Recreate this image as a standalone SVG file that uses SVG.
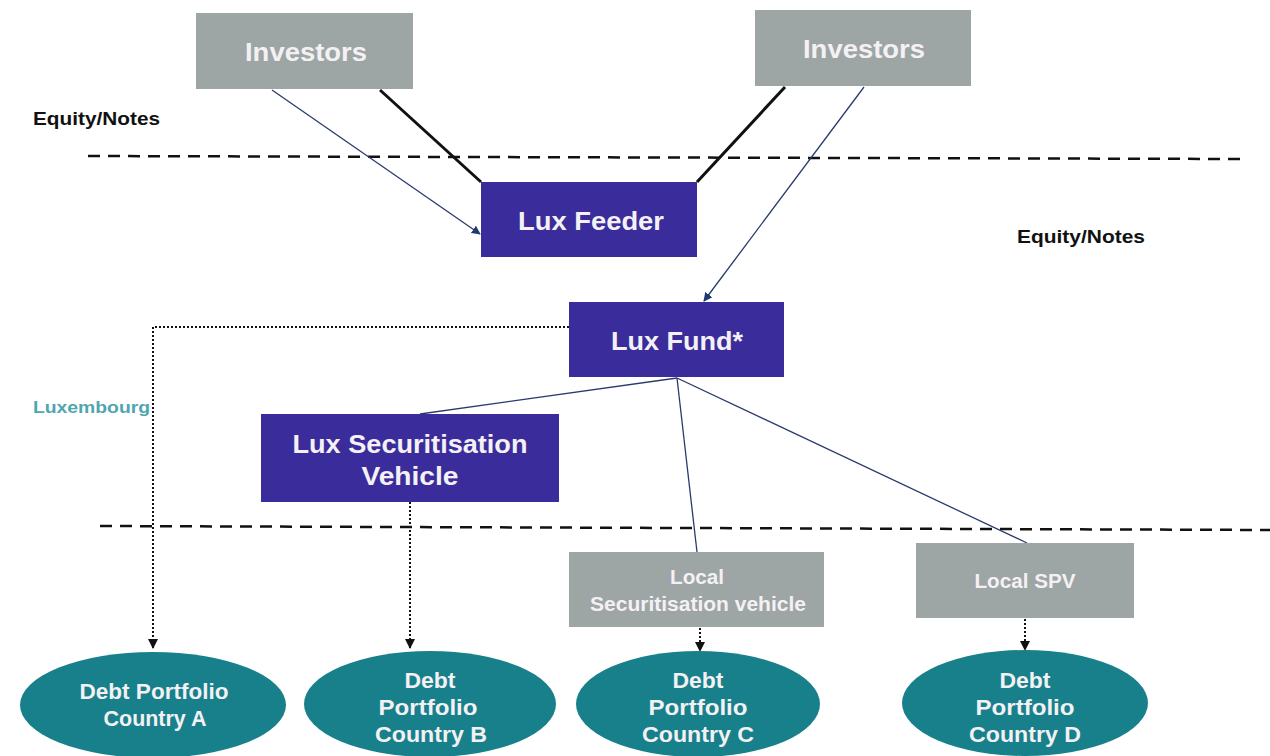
<svg xmlns="http://www.w3.org/2000/svg" width="1270" height="756" viewBox="0 0 1270 756">
<style>
.gray{fill:#9ea5a5}
.purple{fill:#3b2c9b}
.teal{fill:#17808b}
.t{font-family:"Liberation Sans",Arial,sans-serif;font-weight:bold;text-anchor:middle;fill:#f4f1f4}
.lbl{font-family:"Liberation Sans",Arial,sans-serif;font-weight:bold;fill:#111}
.thin{stroke:#2a3a6e;stroke-width:1.3;fill:none}
.thick{stroke:#111;stroke-width:3;fill:none}
.dot{stroke:#111;stroke-width:2;stroke-dasharray:2 2;fill:none}
.dash{stroke:#111;stroke-width:2.5;stroke-dasharray:12 8;fill:none}
</style>
<defs>
<marker id="a1" viewBox="0 0 10 10" refX="9" refY="5" markerWidth="9" markerHeight="9" markerUnits="userSpaceOnUse" orient="auto"><path d="M0,0 L10,5 L0,10 z" fill="#1e3a6e"/></marker>
<marker id="a2" viewBox="0 0 10 10" refX="9" refY="5" markerWidth="10" markerHeight="10" markerUnits="userSpaceOnUse" orient="auto"><path d="M0,0 L10,5 L0,10 z" fill="#111"/></marker>
</defs>
<rect width="1270" height="756" fill="#fff"/>

<g id="boundaries">
<line class="dash" x1="88" y1="156" x2="1240" y2="159"/>
<line class="dash" x1="100" y1="526" x2="1270" y2="530"/>
<text class="lbl" x="33" y="125" font-size="18" textLength="127" lengthAdjust="spacingAndGlyphs">Equity/Notes</text>
<text class="lbl" x="1017" y="243" font-size="18" textLength="128" lengthAdjust="spacingAndGlyphs">Equity/Notes</text>
<text x="33" y="413" font-family="Liberation Sans,Arial,sans-serif" font-weight="bold" font-size="16" fill="#4fa6b0" textLength="117" lengthAdjust="spacingAndGlyphs">Luxembourg</text>
</g>

<g id="connectors">
<line class="thin" x1="272" y1="90" x2="480" y2="234" marker-end="url(#a1)"/>
<line class="thick" x1="380" y1="90" x2="481" y2="182"/>
<line class="thick" x1="785" y1="87" x2="697" y2="182"/>
<line class="thin" x1="864" y1="87" x2="704" y2="301" marker-end="url(#a1)"/>
<line class="thin" x1="677" y1="378" x2="420" y2="414"/>
<line class="thin" x1="677" y1="378" x2="697" y2="552"/>
<line class="thin" x1="677" y1="378" x2="1027" y2="543"/>
<polyline class="dot" points="569,327 153,327 153,648" marker-end="url(#a2)"/>
<line class="dot" x1="410" y1="502" x2="410" y2="648" marker-end="url(#a2)"/>
<line class="dot" x1="700" y1="628" x2="700" y2="651" marker-end="url(#a2)"/>
<line class="dot" x1="1025" y1="619" x2="1025" y2="650" marker-end="url(#a2)"/>
</g>

<g id="investors-left">
<rect class="gray" x="196" y="13" width="217" height="76"/>
<text class="t" x="306" y="61" font-size="26" textLength="122" lengthAdjust="spacingAndGlyphs">Investors</text>
</g>
<g id="investors-right">
<rect class="gray" x="755" y="10" width="216" height="76"/>
<text class="t" x="864" y="58" font-size="26" textLength="122" lengthAdjust="spacingAndGlyphs">Investors</text>
</g>
<g id="lux-feeder">
<rect class="purple" x="481" y="182" width="216" height="75"/>
<text class="t" x="591" y="230" font-size="26" textLength="146" lengthAdjust="spacingAndGlyphs">Lux Feeder</text>
</g>
<g id="lux-fund">
<rect class="purple" x="569" y="302" width="215" height="75"/>
<text class="t" x="677" y="350" font-size="26" textLength="132" lengthAdjust="spacingAndGlyphs">Lux Fund*</text>
</g>
<g id="lux-sec-vehicle">
<rect class="purple" x="261" y="414" width="298" height="88"/>
<text class="t" x="410" y="453" font-size="26" textLength="235" lengthAdjust="spacingAndGlyphs">Lux Securitisation</text>
<text class="t" x="410" y="485" font-size="26" textLength="97" lengthAdjust="spacingAndGlyphs">Vehicle</text>
</g>
<g id="local-sec-vehicle">
<rect class="gray" x="569" y="552" width="255" height="75"/>
<text class="t" x="697" y="584" font-size="20" textLength="54" lengthAdjust="spacingAndGlyphs">Local</text>
<text class="t" x="698" y="611" font-size="20" textLength="216" lengthAdjust="spacingAndGlyphs">Securitisation vehicle</text>
</g>
<g id="local-spv">
<rect class="gray" x="916" y="543" width="218" height="75"/>
<text class="t" x="1025" y="588" font-size="20" textLength="101" lengthAdjust="spacingAndGlyphs">Local SPV</text>
</g>
<g id="portfolio-a">
<ellipse class="teal" cx="153" cy="705" rx="133" ry="53"/>
<text class="t" x="154" y="699" font-size="22" textLength="149" lengthAdjust="spacingAndGlyphs">Debt Portfolio</text>
<text class="t" x="155" y="726" font-size="22" textLength="103" lengthAdjust="spacingAndGlyphs">Country A</text>
</g>
<g id="portfolio-b">
<ellipse class="teal" cx="430" cy="704" rx="126" ry="53"/>
<text class="t" x="430" y="688" font-size="22" textLength="51" lengthAdjust="spacingAndGlyphs">Debt</text>
<text class="t" x="428" y="715" font-size="22" textLength="99" lengthAdjust="spacingAndGlyphs">Portfolio</text>
<text class="t" x="431" y="742" font-size="22" textLength="112" lengthAdjust="spacingAndGlyphs">Country B</text>
</g>
<g id="portfolio-c">
<ellipse class="teal" cx="698" cy="704" rx="122" ry="53"/>
<text class="t" x="698" y="688" font-size="22" textLength="51" lengthAdjust="spacingAndGlyphs">Debt</text>
<text class="t" x="698" y="715" font-size="22" textLength="99" lengthAdjust="spacingAndGlyphs">Portfolio</text>
<text class="t" x="698" y="742" font-size="22" textLength="112" lengthAdjust="spacingAndGlyphs">Country C</text>
</g>
<g id="portfolio-d">
<ellipse class="teal" cx="1025" cy="703" rx="123" ry="53"/>
<text class="t" x="1025" y="688" font-size="22" textLength="51" lengthAdjust="spacingAndGlyphs">Debt</text>
<text class="t" x="1025" y="715" font-size="22" textLength="99" lengthAdjust="spacingAndGlyphs">Portfolio</text>
<text class="t" x="1025" y="742" font-size="22" textLength="112" lengthAdjust="spacingAndGlyphs">Country D</text>
</g>
</svg>
